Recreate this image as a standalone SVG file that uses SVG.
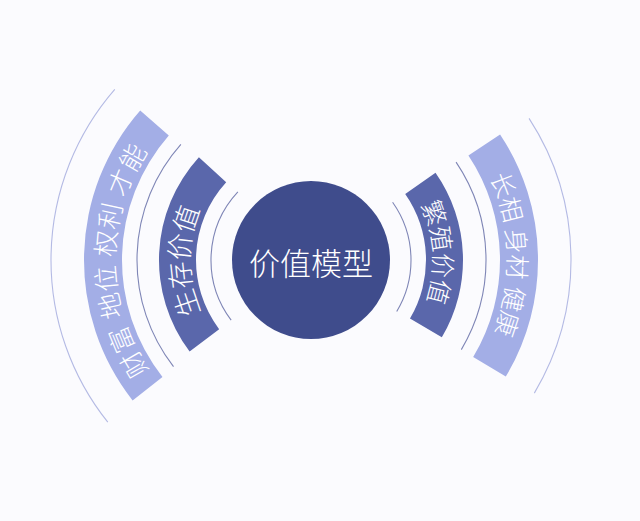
<svg xmlns="http://www.w3.org/2000/svg" width="640" height="521" viewBox="0 0 640 521">
  <style>
    .bg { fill: #fbfbfe; }
    .dark { fill: #5a67ab; }
    .light { fill: #a3aee6; }
    .hub { fill: #3f4c8c; }
    .ring-in { fill: none; stroke: #7f86b6; stroke-width: 1.1; }
    .ring-out { fill: none; stroke: #b4bae4; stroke-width: 1.1; }
    .lbl { fill: #ffffff; font-family: "Noto Sans CJK SC", "Noto Sans", sans-serif; font-weight: 300; dominant-baseline: central; text-anchor: middle; }
  </style>
  <defs>
    <path id="tp-ld" d="M 265.34 385.49 A 133.5 133.5 0 0 1 265.34 134.51"/>
    <path id="tp-ll" d="M 239.86 455.46 A 208 208 0 0 1 239.86 64.54"/>
    <path id="tp-rd" d="M 350.03 132.33 A 133.5 133.5 0 0 1 363.16 382.89"/>
    <path id="tp-rl" d="M 377.0 62.75 A 208 208 0 0 1 387.23 453.52"/>
  </defs>
  <rect class="bg" x="0" y="0" width="640" height="521"/>

  <g id="rings">
    <path class="ring-in" d="M 237.86 191.8 A 100 100 0 0 0 231.14 320.18"/>
    <path class="ring-in" d="M 180.88 144.48 A 174 174 0 0 0 173.51 366.64"/>
    <path class="ring-out" d="M 114.78 89.41 A 260 260 0 0 0 107.81 422.21"/>
    <path class="ring-in" d="M 392.61 202.21 A 100 100 0 0 1 396.72 311.5"/>
    <path class="ring-in" d="M 456.08 162.14 A 175 175 0 0 1 461.33 349.6"/>
    <path class="ring-out" d="M 529.06 118.4 A 260 260 0 0 1 534.34 393.12"/>
  </g>

  <g id="survival">
    <path class="dark" d="M 198.9 157.3 A 152 152 0 0 0 189.61 351.47 L 219.16 329.21 A 115 115 0 0 1 226.21 182.31 Z"/>
    <text class="lbl" font-size="27" letter-spacing="2"><textPath href="#tp-ld" startOffset="50%">生存价值</textPath></text>
  </g>

  <g id="status">
    <path class="light" d="M 140.21 110.48 A 227 227 0 0 0 132.6 400.38 L 162.46 376.88 A 189 189 0 0 1 168.8 135.51 Z"/>
    <text class="lbl" font-size="26" letter-spacing="2"><textPath href="#tp-ll" startOffset="50%">财富 地位 权利 才能</textPath></text>
  </g>

  <g id="reproduction">
    <path class="dark" d="M 435.52 172.81 A 152 152 0 0 1 441.83 337.37 L 409.98 318.54 A 115 115 0 0 0 405.21 194.04 Z"/>
    <text class="lbl" font-size="25" letter-spacing="2"><textPath href="#tp-rd" startOffset="50%">繁殖价值</textPath></text>
  </g>

  <g id="appearance">
    <path class="light" d="M 500.07 134.38 A 227 227 0 0 1 505.79 376.56 L 473.18 357.05 A 189 189 0 0 0 468.42 155.41 Z"/>
    <text class="lbl" font-size="25" letter-spacing="1"><textPath href="#tp-rl" startOffset="50%">长相 身材 健康</textPath></text>
  </g>

  <g id="value-model">
    <circle class="hub" cx="311" cy="260" r="79"/>
    <text class="lbl" x="311" y="261" font-size="31">价值模型</text>
  </g>
</svg>
